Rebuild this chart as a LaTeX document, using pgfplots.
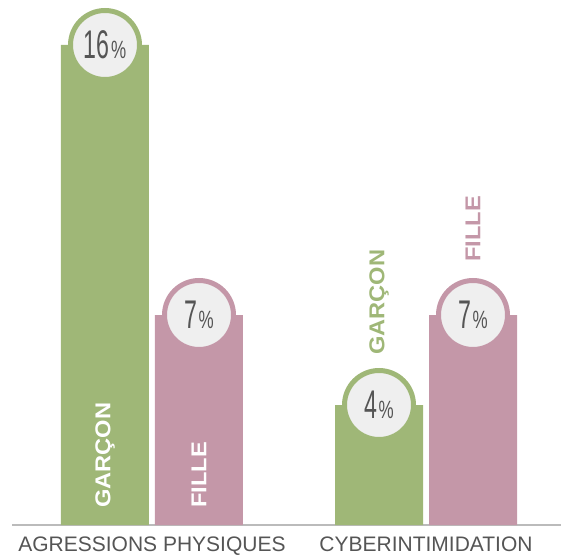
\documentclass[border=0pt]{standalone}
\usepackage{pgfplots}
\pgfplotsset{compat=1.18}
\usepackage{fontspec}
\setmainfont{Liberation Sans}
\usepackage{graphicx}
\definecolor{gr}{HTML}{9FB777}
\definecolor{pk}{HTML}{C497A8}
\definecolor{circ}{HTML}{EFEFEF}
\definecolor{txt}{HTML}{555555}
\definecolor{axl}{HTML}{BBBBBB}
\newcommand\pct[1]{{\fontsize{40}{40}\selectfont\scalebox{0.58}[1]{#1}}\hspace{1.5pt}{\fontsize{25}{25}\selectfont\scalebox{0.68}[1]{\%}}}
\newcommand\lbl[1]{\scalebox{1.1}[1]{#1}}
\tikzset{vlab/.style={rotate=90, anchor=west, inner sep=0pt, font=\bfseries\fontsize{21.5}{21.5}\selectfont}}
\begin{document}
\begin{tikzpicture}
\path[use as bounding box] (0,0) rectangle (561pt,555pt);
\begin{axis}[
  at={(12pt,30pt)}, anchor=south west,
  scale only axis, width=549pt, height=525pt,
  xmin=-0.5109, xmax=1.4927, ymin=0, ymax=17.5,
  axis x line*=bottom, axis y line=none,
  x axis line style={draw=axl, line width=1.2pt},
  xtick={0,1}, xticklabels={AGRESSIONS PHYSIQUES, CYBERINTIMIDATION},
  major tick length=0pt,
  xticklabel style={font=\fontsize{21}{21}\selectfont, text=txt, yshift=-8pt},
  /pgf/number format/assume math mode=true,
  ybar, bar width=88pt, clip=false,
  nodes near coords={\pct{\pgfmathprintnumber{\pgfplotspointmeta}}},
  nodes near coords align={center},
]
\addplot[draw=none, fill=gr, bar shift=-47pt,
  every node near coord/.append style={circle, fill=circ, draw=gr, line width=5pt, minimum size=69pt, inner sep=0pt, anchor=center, text=txt}]
  coordinates {(0,16) (1,4)};
\addplot[draw=none, fill=pk, bar shift=47pt,
  every node near coord/.append style={circle, fill=circ, draw=pk, line width=5pt, minimum size=69pt, inner sep=0pt, anchor=center, text=txt}]
  coordinates {(0,7) (1,7)};
\node[vlab, text=white] at (axis cs:-0.1715,0.57) {\lbl{GARÇON}};
\node[vlab, text=white] at (axis cs:0.1715,0.57) {\lbl{FILLE}};
\node[vlab, text=gr] at (axis cs:0.8285,5.67) {\lbl{GARÇON}};
\node[vlab, text=pk] at (axis cs:1.1715,8.77) {\lbl{FILLE}};
\end{axis}
\end{tikzpicture}
\end{document}
